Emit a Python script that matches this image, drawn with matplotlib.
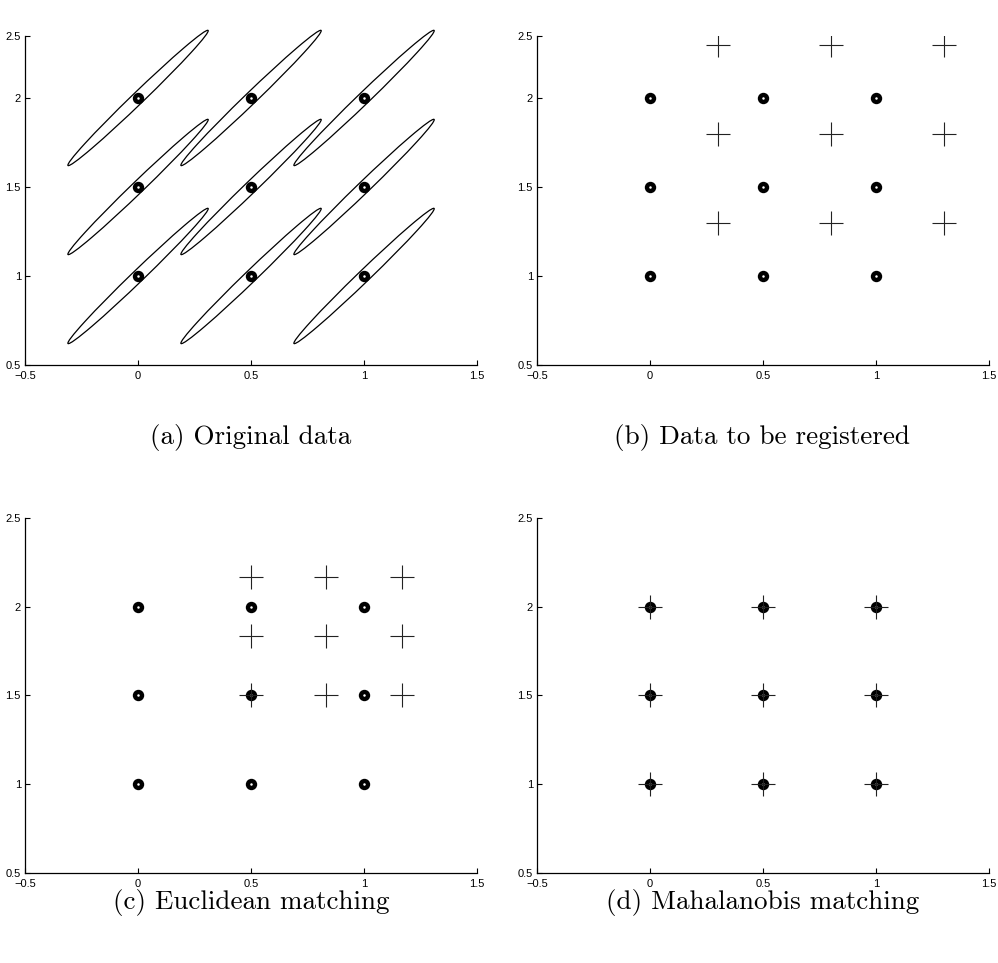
import matplotlib
matplotlib.use("Agg")
import matplotlib.pyplot as plt
from matplotlib.patches import Ellipse
import numpy as np

# data
grid_x = [0, 0.5, 1]
grid_y = [1, 1.5, 2]

# (a) covariance ellipses around each original point
ell_major = 0.98      # full length of major axis
ell_minor = 0.058     # full length of minor axis
ell_angle = 50.8      # degrees

# (b) shifted points to be registered
reg_x = [0.3, 0.8, 1.3]
reg_y = [1.3, 1.8, 2.3]

# (c) euclidean matching result
euc_x = [0.5, 0.833, 1.167]
euc_y = [1.5, 1.833, 2.167]

# (d) mahalanobis matching result
mah_x = [0, 0.5, 1]
mah_y = [1, 1.5, 2]

captions = ["(a) Original data", "(b) Data to be registered",
            "(c) Euclidean matching", "(d) Mahalanobis matching"]

xticks = [-0.5, 0, 0.5, 1, 1.5]
xlabels = ["\u22120.5", "0", "0.5", "1", "1.5"]
ylabels = ["0.5", "1", "1.5", "2", "2.5"]


def mesh(xs, ys):
    gx, gy = np.meshgrid(xs, ys)
    return gx.ravel(), gy.ravel()


def setup(ax, ytop):
    ax.set_xlim(-0.5, 1.5)
    ax.set_ylim(0.5, ytop)
    ax.spines["top"].set_visible(False)
    ax.spines["right"].set_visible(False)
    for s in ["left", "bottom"]:
        ax.spines[s].set_linewidth(0.9)
    ax.set_xticks(xticks)
    ax.set_xticklabels(xlabels)
    ax.set_yticks([0.5, 1, 1.5, 2, ytop])
    ax.set_yticklabels(ylabels)
    ax.tick_params(direction="in", length=3.5, width=0.8, labelsize=8,
                   top=False, right=False)
    ax.tick_params(axis="x", pad=4)
    ax.tick_params(axis="y", pad=3)
    for lab in ax.get_xticklabels() + ax.get_yticklabels():
        lab.set_fontfamily("Liberation Sans")


def dots(ax, xs, ys):
    px, py = mesh(xs, ys)
    ax.plot(px, py, "o", color="black", markersize=7.2, zorder=3)
    ax.plot(px, py, "o", color="white", markersize=0.8, zorder=4)


def crosses(ax, xs, ys):
    px, py = mesh(xs, ys)
    ax.plot(px, py, "+", color="#222222", markersize=17, mew=0.8, zorder=5)


fig = plt.figure(figsize=(9.98, 9.63), dpi=100)
w = 0.4529
ax_a = fig.add_axes([0.0251, 0.6210, w, 0.3416])
ax_b = fig.add_axes([0.5381, 0.6210, w, 0.3416])
ax_c = fig.add_axes([0.0251, 0.0935, w, 0.3686])
ax_d = fig.add_axes([0.5381, 0.0935, w, 0.3686])

top_ylim = 2.348
setup(ax_a, top_ylim)
setup(ax_b, top_ylim)
setup(ax_c, 2.5)
setup(ax_d, 2.5)

# (a)
for cx, cy in zip(*mesh(grid_x, grid_y)):
    ax_a.add_patch(Ellipse((cx, cy), ell_major, ell_minor, angle=ell_angle,
                           fill=False, edgecolor="black", lw=0.9,
                           clip_on=False))
dots(ax_a, grid_x, grid_y)

# (b)
dots(ax_b, grid_x, grid_y)
crosses(ax_b, reg_x, reg_y)

# (c)
dots(ax_c, grid_x, grid_y)
crosses(ax_c, euc_x, euc_y)

# (d)
dots(ax_d, grid_x, grid_y)
crosses(ax_d, mah_x, mah_y)

cap_pos = [(0.2515, 0.546), (0.764, 0.546), (0.2515, 0.0633), (0.764, 0.0633)]
for (x, y), txt in zip(cap_pos, captions):
    fig.text(x, y, txt, ha="center", va="center", fontsize=19.5,
             family="cmr10")

fig.savefig("out.png", dpi=100)
